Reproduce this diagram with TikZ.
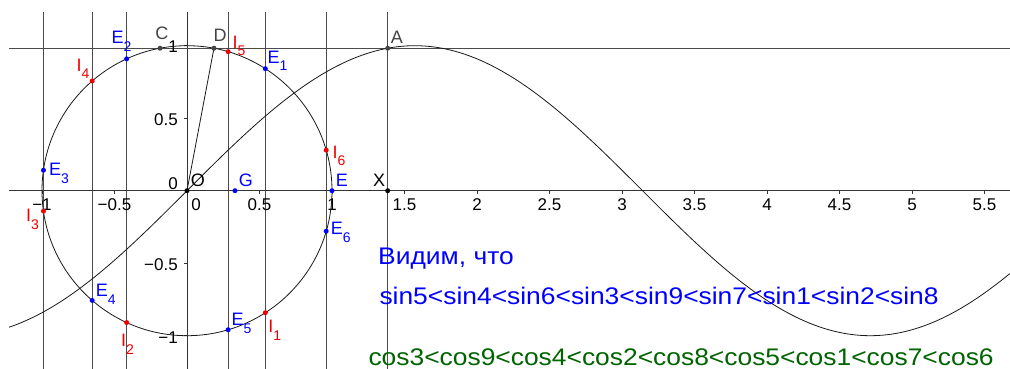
\documentclass[tikz,border=0pt]{standalone}
\usepackage{fontspec}
\usepackage{graphicx}
\setmainfont{Liberation Sans}
\definecolor{gbBlue}{RGB}{0,0,255}
\definecolor{gbRed}{RGB}{240,0,0}
\definecolor{gbGreen}{RGB}{0,100,0}
\definecolor{gbGray}{RGB}{68,68,68}
\definecolor{lineGray}{RGB}{75,75,75}
\newcommand{\sbs}[1]{\raisebox{-7.5pt}{\fontsize{14}{14}\selectfont #1}}
\begin{document}
\begin{tikzpicture}[x=1pt,y=-1pt,
  gridline/.style={lineGray, line width=0.8pt},
  axisline/.style={black!80, line width=0.9pt},
  curveline/.style={black!90, line width=0.8pt},
  lbl/.style={font=\fontsize{18}{18}\selectfont, inner sep=0pt, anchor=base west},
  ticklbl/.style={font=\fontsize{17}{17}\selectfont, inner sep=0pt},
  bigtext/.style={font=\fontsize{24}{24}\selectfont, inner sep=0pt, anchor=base west}]
\useasboundingbox (0,0) rectangle (1010,369);
\fill[white] (0,0) rectangle (1010,369);
\begin{scope}[shift={(187,190.7)}, x=145pt, y=145pt]
  \coordinate (O) at (0,0);
  \coordinate (top) at (0,1.2324);
  \coordinate (bot) at (0,-1.2297);
  \coordinate (left) at (-1.2276,0);
  \coordinate (right) at (5.676,0);
  \foreach \k in {1,...,6} {
    \coordinate (E\k) at ({cos(\k r)},{sin(\k r)});
    \coordinate (I\k) at ({cos(\k r)},{-sin(\k r)});
  }
  \coordinate (G) at (0.331,0);
  \coordinate (E) at (1,0);
  \coordinate (X) at (1.384,0);
  \pgfmathsetmacro\sX{sin(1.384 r)}
  \pgfmathsetmacro\cD{sqrt(1-\sX*\sX)}
  \coordinate (A) at (1.384,\sX);
  \coordinate (C) at (-\cD,\sX);
  \coordinate (D) at (\cD,\sX);
  % vertical lines
  \foreach \p in {E1,E2,E3,E4,E5,E6,X}
    \draw[gridline] (\p |- top) -- (\p |- bot);
  \draw[axisline] (top) -- (bot);
  % horizontal lines
  \draw[gridline] (left |- A) -- (right |- A);
  \draw[axisline] (left) -- (right);
  % ticks
  \foreach \t in {-1,-0.5,0,0.5,1,1.5,2,2.5,3,3.5,4,4.5,5,5.5}
    \draw[axisline] (\t,0) -- ++(0pt,-3pt);
  \foreach \t in {-1,-0.5,0.5,1}
    \draw[axisline] (0,\t) -- ++(-3pt,0pt);
  % tick labels
  \foreach \t/\s in {-1/−1,-0.5/−0.5,0.5/0.5,1/1,1.5/1.5,2/2,2.5/2.5,3/3,3.5/3.5,4/4,4.5/4.5,5/5,5.5/5.5}
    \node[ticklbl, anchor=base] at ([yshift=-19.8pt]\t,0) {\s};
  \node[ticklbl, anchor=base] at ([xshift=9pt, yshift=-19.8pt]O) {0};
  \foreach \t/\s in {-1/−1,-0.5/−0.5,0.5/0.5,1/1}
    \node[ticklbl, anchor=base east] at ([xshift=-9pt, yshift=-7.3pt]0,\t) {\s};
  \node[ticklbl, anchor=base east] at ([xshift=-9pt, yshift=1.3pt]O) {0};
  % curves
  \draw[curveline] (O) circle[radius=1];
  \draw[curveline] plot[domain=-1.2276:5.676, samples=300] (\x,{sin(\x r)});
  \draw[curveline] (O) -- (D);
  % points
  \foreach \p in {E1,E2,E3,E4,E5,E6,G,E}
    \fill[gbBlue] (\p) circle[radius=2.5pt];
  \foreach \p in {I1,I2,I3,I4,I5,I6}
    \fill[gbRed] (\p) circle[radius=2.5pt];
  \foreach \p in {A,C,D}
    \fill[gbGray] (\p) circle[radius=2.5pt];
  \foreach \p in {O,X}
    \fill[black] (\p) circle[radius=2.5pt];
\end{scope}
% point labels
\node[lbl, gbBlue] (lE1) at (267.3,63.2) {E\sbs{1}};
\node[lbl, gbBlue] (lE2) at (111.5,44) {E\sbs{2}};
\node[lbl, gbBlue] (lE3) at (49,175.8) {E\sbs{3}};
\node[lbl, gbBlue] (lE4) at (95.7,296.5) {E\sbs{4}};
\node[lbl, gbBlue] (lE5) at (231.3,325.8) {E\sbs{5}};
\node[lbl, gbBlue] (lE6) at (330.7,234.8) {E\sbs{6}};
\node[lbl, gbBlue] (lE) at (335.7,186.5) {E};
\node[lbl, gbBlue] (lG) at (238.7,186.5) {G};
\node[lbl, gbRed] (lI1) at (268.2,332.5) {I\sbs{1}};
\node[lbl, gbRed] (lI2) at (120.8,346.5) {I\sbs{2}};
\node[lbl, gbRed] (lI3) at (25.8,221.5) {I\sbs{3}};
\node[lbl, gbRed] (lI4) at (76.5,71.5) {I\sbs{4}};
\node[lbl, gbRed] (lI5) at (232.5,48.2) {I\sbs{5}};
\node[lbl, gbRed] (lI6) at (332.5,158.2) {I\sbs{6}};
\node[lbl, black] (lO) at (190.7,186.5) {O};
\node[lbl, black] (lX) at (373,186.5) {X};
\node[lbl, gbGray] (lA) at (390.7,43.2) {A};
\node[lbl, gbGray] (lC) at (155.2,39.8) {C};
\node[lbl, gbGray] (lD) at (213.5,41.5) {D};
% text
\node[bigtext, gbBlue] (t1) at (378,264.3) {\scalebox{1.1}[1]{Видим, что}};
\node[bigtext, gbBlue] (t2) at (379.3,304.3) {\scalebox{1.1}[1]{sin5<sin4<sin6<sin3<sin9<sin7<sin1<sin2<sin8}};
\node[bigtext, gbGreen] (t3) at (368.3,365) {\scalebox{1.1}[1]{cos3<cos9<cos4<cos2<cos8<cos5<cos1<cos7<cos6}};
\end{tikzpicture}
\end{document}
